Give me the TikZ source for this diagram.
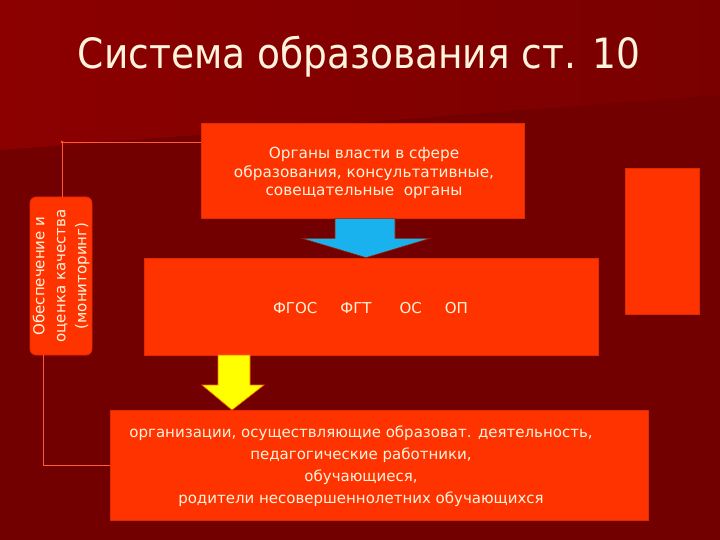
\documentclass[tikz,border=0pt]{standalone}
\usepackage{fontspec}
\setmainfont{DejaVu Sans}
\newfontfamily\titlefont{DejaVu Sans Condensed}
\usetikzlibrary{calc}
\definecolor{bgdark}{HTML}{720000}
\definecolor{bgtop}{HTML}{8C0000}
\definecolor{bgtopr}{HTML}{7A0000}
\definecolor{boxfill}{HTML}{FF3300}
\definecolor{boxedge}{HTML}{E02A00}
\definecolor{txt}{HTML}{FFF3DC}
\definecolor{linec}{HTML}{FF5A3A}
\definecolor{bluearr}{HTML}{1AB2EE}
\definecolor{yelarr}{HTML}{FFFF00}
\tikzset{
  box/.style={fill=boxfill, draw=boxedge, line width=0.8pt, text=txt, align=center, inner sep=0pt, font=\fontsize{15.3}{18.5}\selectfont},
  lbl/.style={text=txt, align=center, inner sep=0pt},
  conn/.style={draw=linec, line width=0.8pt},
}
\begin{document}
\begin{tikzpicture}[x=1pt,y=-1pt]
\useasboundingbox (0,0) rectangle (720,540);
\fill[bgdark] (0,0) rectangle (720,540);
\shade[left color=bgtop, right color=bgtopr] (0,0) -- (720,0) -- (720,95) -- (0,150) -- cycle;

\node[text=txt, font=\titlefont] (title) at (359,57) {\resizebox{562pt}{!}{Система образования ст. 10}};

\node[box, minimum width=323pt, minimum height=95pt] (top) at (362.5,170.5) {};
\node[lbl, font=\fontsize{15.3}{18.5}\selectfont] (toptxt) at (364,173)
  {Органы власти в сфере\\образования, консультативные,\\совещательные\ \ органы};
\node[box, minimum width=454pt, minimum height=97pt] (mid) at (371,306.5) {};
\node[lbl, font=\fontsize{15}{18}\selectfont] (midtxt) at (370.5,308)
  {ФГОС\hspace{23pt}ФГТ\hspace{28pt}ОС\hspace{23pt}ОП};
\node[box, minimum width=538pt, minimum height=110pt] (bot) at (379,465) {};
\node[lbl, font=\fontsize{15}{22}\selectfont] (bottxt) at (361,466)
  {организации, осуществляющие образоват. деятельность,\\педагогические работники,\\обучающиеся,\\родители несовершеннолетних обучающихся};
\node[box, minimum width=74pt, minimum height=146pt] (right) at (662,241) {};
\node[box, rounded corners=6pt, minimum width=158pt, minimum height=62pt, rotate=90, font=\fontsize{15}{21}\selectfont] (left) at (61,276)
  {Обеспечение и\\оценка качества\\(мониторинг)};

% blue arrow
\filldraw[fill=bluearr, draw=boxedge!70!black, line width=0.6pt]
  ($(top.south)+(-27.5,0)$) -- ($(top.south)+(32.5,0)$) -- ($(top.south)+(32.5,20)$) -- ($(top.south)+(67.5,20)$)
  -- (mid.north -| 366,0) -- ($(top.south)+(-60.5,20)$) -- ($(top.south)+(-27.5,20)$) -- cycle;
% yellow arrow
\coordinate (ytip) at (232,410);
\filldraw[fill=yelarr, draw=orange!80!red, line width=0.6pt]
  (218,355) -- (250,355) -- (250,385) -- (264,385) -- (ytip) -- (202,385) -- (218,385) -- cycle;

% connectors
\coordinate (c1) at (62,142);
\draw[conn] (left.east -| c1) -- (c1) -- (c1 -| top.west);
\fill[linec] (c1) circle (1.3pt);
\coordinate (c2) at (43,465);
\draw[conn] (left.west -| c2) -- (c2) -- (bot.west);
\end{tikzpicture}
\end{document}
